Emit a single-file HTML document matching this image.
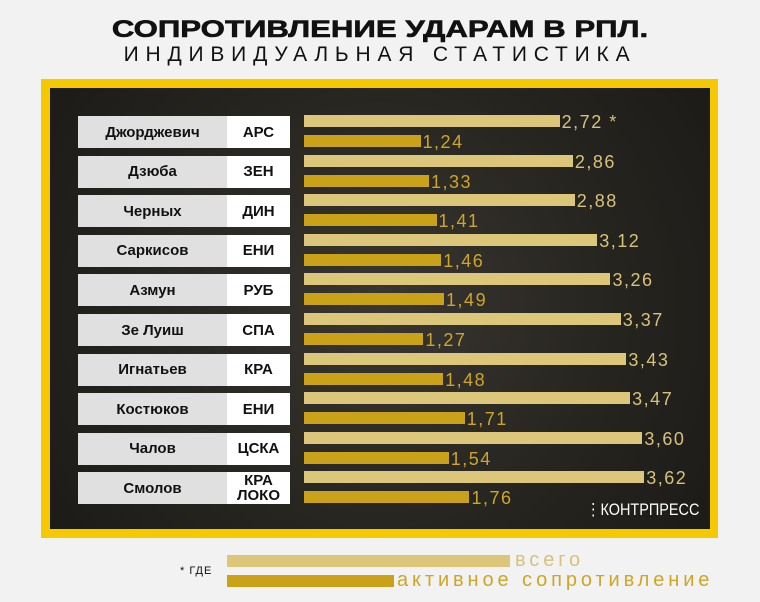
<!DOCTYPE html>
<html><head><meta charset="utf-8"><style>
*{margin:0;padding:0;box-sizing:border-box}
body{width:760px;height:602px;background:#f2f2f2;position:relative;overflow:hidden;font-family:"Liberation Sans",sans-serif}
.t1{position:absolute;top:16px;width:760px;text-align:center;font-weight:900;font-size:24px;line-height:27px;color:#111;transform:scaleX(1.3);-webkit-text-stroke:0.6px #111}
.t2{position:absolute;top:43px;width:760px;text-align:center;font-size:21px;line-height:24px;letter-spacing:6.8px;color:#111}
.frame{position:absolute;left:41px;top:79px;width:677px;height:459px;background:#f5c800}
.dark{position:absolute;left:50px;top:88px;width:660px;height:441px;background:radial-gradient(circle at 330px 220px,#3a3733 0,#26241f 60%,#1c1b18 100%)}
.nm{position:absolute;left:78px;width:149px;height:32px;background:#e0e0e0;font-weight:bold;font-size:15px;display:flex;align-items:center;justify-content:center;color:#111}
.tm{position:absolute;left:227px;width:63px;height:32px;background:#fff;font-weight:bold;font-size:15px;display:flex;align-items:center;justify-content:center;text-align:center;line-height:15px;color:#111}
.b1{position:absolute;left:304px;height:12px;background:#dbc679}
.b2{position:absolute;left:304px;height:12px;background:#c9a21a}
.v{position:absolute;font-size:18px;letter-spacing:1.5px;line-height:18px}
.v1{color:#d6c27a}.v2{color:#cfa623}
.lg{font-size:20px;letter-spacing:3.9px;line-height:20px}
</style></head><body>
<div class="t1">СОПРОТИВЛЕНИЕ УДАРАМ В РПЛ.</div>
<div class="t2">ИНДИВИДУАЛЬНАЯ СТАТИСТИКА</div>
<div class="frame"></div><div class="dark"></div>
<div id="rows"></div>
<div style="position:absolute;left:586px;top:500px;color:#fff;font-size:17px;transform:scaleX(.85);transform-origin:left">⋮КОНТРПРЕСС</div>
<div style="position:absolute;left:180px;top:565px;font-size:11px;letter-spacing:1px;color:#111">* ГДЕ</div>
<div class="b1" style="left:227px;top:555px;width:283px;"></div>
<div class="b2" style="left:227px;top:575px;width:167px;"></div>
<div class="v v1 lg" style="left:515px;top:550px">всего</div>
<div class="v v2 lg" style="left:397px;top:570px">активное сопротивление</div>
<script>
var d=[["Джорджевич","АРС",2.72,1.24],["Дзюба","ЗЕН",2.86,1.33],["Черных","ДИН",2.88,1.41],["Саркисов","ЕНИ",3.12,1.46],["Азмун","РУБ",3.26,1.49],["Зе Луиш","СПА",3.37,1.27],["Игнатьев","КРА",3.43,1.48],["Костюков","ЕНИ",3.47,1.71],["Чалов","ЦСКА",3.60,1.54],["Смолов","КРА<br>ЛОКО",3.62,1.76]];
var h="";d.forEach(function(r,i){var y=116+i*39.6;var w1=r[2]*94,w2=r[3]*94;
h+='<div class="nm" style="top:'+y+'px">'+r[0]+'</div><div class="tm" style="top:'+y+'px">'+r[1]+'</div>';
h+='<div class="b1" style="top:'+(y-1)+'px;width:'+w1+'px"></div><div class="b2" style="top:'+(y+19)+'px;width:'+w2+'px"></div>';
h+='<div class="v v1" style="left:'+(306+w1)+'px;top:'+(y-3)+'px">'+r[2].toFixed(2).replace(".",",")+(i==0?' *':'')+'</div>';
h+='<div class="v v2" style="left:'+(306+w2)+'px;top:'+(y+17)+'px">'+r[3].toFixed(2).replace(".",",")+'</div>';});
document.getElementById("rows").innerHTML=h;
</script>
</body></html>
